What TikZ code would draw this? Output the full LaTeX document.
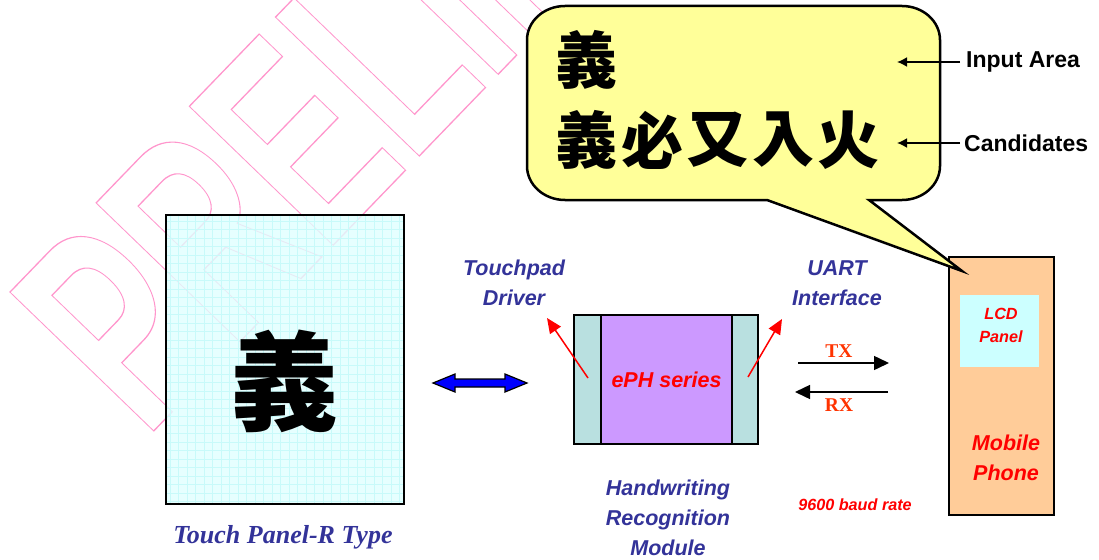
\documentclass[tikz,border=0pt]{standalone}
\usepackage{fontspec}
\setmainfont{Liberation Sans}
\newfontfamily\tmsfont{Liberation Serif}
\newfontfamily\cjkfont{Noto Sans CJK TC}
\usetikzlibrary{arrows.meta}

\definecolor{wmpink}{RGB}{255,150,204}
\definecolor{lblblue}{RGB}{51,51,153}
\definecolor{panelcyan}{RGB}{224,255,255}
\definecolor{gridcyan}{RGB}{200,250,250}
\definecolor{bubbleyellow}{RGB}{255,255,153}
\definecolor{stripteal}{RGB}{185,224,224}
\definecolor{ephpurple}{RGB}{204,153,255}
\definecolor{phoneorange}{RGB}{255,204,153}
\definecolor{lcdcyan}{RGB}{204,255,255}
\definecolor{txred}{RGB}{255,51,0}

\newcommand{\outlined}[1]{\special{pdf:literal direct 1 Tr 1.3 w}#1\special{pdf:literal direct 0 Tr}}

\tikzset{
	bluelbl/.style={text=lblblue, font=\bfseries\itshape\fontsize{21.5}{30}\selectfont, align=center},
	redlbl/.style={text=red, font=\bfseries\itshape\fontsize{21.5}{30}\selectfont, align=center},
	smallred/.style={text=red, font=\bfseries\itshape\fontsize{16.2}{23}\selectfont, align=center},
	blacklbl/.style={font=\bfseries\fontsize{23}{28}\selectfont, anchor=west, inner sep=0pt},
	serifred/.style={text=txred, font=\tmsfont\bfseries\fontsize{19.5}{22}\selectfont},
	cjkchar/.style={font=\cjkfont\bfseries\fontsize{62}{62}\selectfont, inner sep=0pt},
	ptr/.style={-{Latex[length=10pt,width=10pt]}, line width=1.8pt},
	wire/.style={-{Triangle[length=15pt,width=14pt]}, line width=1.5pt},
	redptr/.style={red, line width=1.5pt, -{Triangle[length=15pt,width=13pt]}},
}

\begin{document}
\begin{tikzpicture}[x=1pt, y=-1pt]

	\useasboundingbox (0,0) rectangle (1099,559);

	% watermark
	\begin{scope}
		\clip (0,0) rectangle (1099,559);
		\node[text=wmpink, font=\bfseries\fontsize{290.5}{300}\selectfont, rotate=46, xscale=0.64, anchor=base west, inner sep=0pt] (wmark) at (145,440) {\outlined{PRELIMINARY}};
	\end{scope}

	\node[fill=panelcyan, fill opacity=0.8, minimum width=238pt, minimum height=289pt, inner sep=0pt] (panel) at (285,359.5) {};
	\draw[gridcyan, line width=0.5pt, step=8.5pt] (167,216) grid (403,503);
	\draw[line width=2.5pt] (panel.south west) rectangle (panel.north east);
	\node[font=\cjkfont\bfseries\fontsize{108}{108}\selectfont, inner sep=0pt] (bigchar) at (284,381) {義};
	\node[text=lblblue, font=\tmsfont\bfseries\itshape\fontsize{26}{30}\selectfont, anchor=base] (paneltype) at (283,543) {Touch Panel-R Type};

	\coordinate (linkl) at (433,383);
	\draw[fill=blue, line width=1.2pt, line join=miter] (linkl) -- ++(22,-9) -- ++(0,5) -- ++(50,0) -- ++(0,-5) -- ++(22,9) -- ++(-22,9) -- ++(0,-5) -- ++(-50,0) -- ++(0,5) -- cycle;

	\node[draw, line width=1.5pt, fill=stripteal, minimum width=184pt, minimum height=129pt, inner sep=0pt] (eph) at (666,379.5) {};
	\node[draw, line width=1.5pt, fill=ephpurple, minimum width=131pt, minimum height=129pt, inner sep=0pt, text=red, font=\bfseries\itshape\fontsize{21.5}{30}\selectfont] (ephcore) at (666.5,379.5) {ePH series};

	\node[bluelbl] (drv) at (514,283) {Touchpad\\Driver};
	\node[bluelbl] (uart) at (837,283) {UART\\Interface};
	\node[bluelbl] (hwr) at (668,518) {Handwriting\\Recognition\\Module};

	\coordinate (drvfoot) at (588,378);
	\coordinate (drvtip) at (547,318);
	\coordinate (uartfoot) at (748,377);
	\coordinate (uarttip) at (782,319);
	\draw[redptr] (drvfoot) -- (drvtip);
	\draw[redptr] (uartfoot) -- (uarttip);

	\node[serifred] (tx) at (839,351.5) {TX};
	\node[serifred] (rx) at (839,405) {RX};
	\coordinate (txa) at (798,363);
	\coordinate (txb) at (889,363);
	\coordinate (rxa) at (888,392);
	\coordinate (rxb) at (795,392);
	\draw[wire] (txa) -- (txb);
	\draw[wire] (rxa) -- (rxb);
	\node[smallred] (baud) at (855,505) {9600 baud rate};

	\node[draw, line width=2pt, fill=phoneorange, minimum width=105pt, minimum height=258pt, inner sep=0pt] (phone) at (1001.5,386) {};
	\node[fill=lcdcyan, minimum width=79pt, minimum height=72pt, inner sep=0pt] (lcd) at (999.5,331) {};
	\node[smallred] (lcdlbl) at (1001,325) {LCD\\Panel};
	\node[redlbl] (mobile) at (1006,458) {Mobile\\Phone};

	\coordinate (tip) at (962,271);
	\draw[line width=2.5pt, fill=bubbleyellow, line join=miter]
		(767,200) -- (tip) -- (869,200) -- (902,200)
		arc[start angle=270, end angle=360, x radius=38pt, y radius=34pt] -- (940,40)
		arc[start angle=0, end angle=90, x radius=38pt, y radius=34pt] -- (565,6)
		arc[start angle=90, end angle=180, x radius=38pt, y radius=34pt] -- (527,166)
		arc[start angle=180, end angle=270, x radius=38pt, y radius=34pt] -- cycle;

	\node[cjkchar] (inchar) at (586.5,60) {義};
	\foreach \c [count=\i from 0] in {義,必,又,入,火}
	{
		\node[cjkchar] (cand\i) at (586.5+65.5*\i,140) {\c};
	};

	\node[blacklbl] (inlbl) at (966,62) {Input Area};
	\node[blacklbl] (candlbl) at (964,143) {Candidates};
	\coordinate (inpt) at (897,63);
	\coordinate (candpt) at (897,145);
	\draw[ptr, shorten <=6pt] (inlbl.west) -- (inlbl.west -| inpt);
	\draw[ptr, shorten <=4pt] (candlbl.west) -- (candlbl.west -| candpt);

\end{tikzpicture}
\end{document}
